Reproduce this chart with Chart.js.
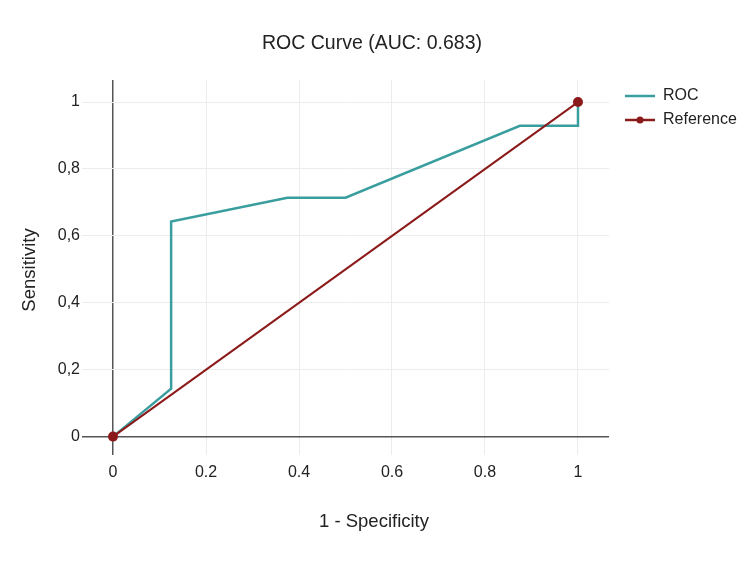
<!DOCTYPE html>
<html>
<head>
<meta charset="utf-8">
<script src="https://cdn.jsdelivr.net/npm/chart.js@4"></script>
<style>
  html, body { margin:0; padding:0; background:#fff; }
  #roc { display:block; }
</style>
</head>
<body>
<canvas id="roc" width="750" height="567"></canvas>
<script>
// ── Data ──────────────────────────────────────────────────────────────────────
const rocFpr = [0, 0.125, 0.125, 0.375, 0.5, 0.875, 1, 1];
const rocTpr = [0, 0.143, 0.643, 0.714, 0.714, 0.929, 0.929, 1];
const refFpr = [0, 1];
const refTpr = [0, 1];
const tickVals = [0, 0.2, 0.4, 0.6, 0.8, 1];

const TEAL = '#3a9e9f';
const RED  = '#8b1a1a';
const FONT = '"Liberation Sans", Arial, Helvetica, sans-serif';

const pts = (xs, ys) => xs.map((x,i)=>({ x, y: ys[i] }));
const fmtX = v => String(Math.round(v*10)/10);
const fmtY = v => fmtX(v).replace('.', ',');

// ── Titles + legend drawn on canvas ───────────────────────────────────────────
const textPlugin = {
  id:'texts',
  afterDraw(chart){
    const c = chart.ctx;
    c.save();
    c.fillStyle = '#222';
    c.textAlign = 'center';
    c.textBaseline = 'middle';
    c.font = `19.5px ${FONT}`;
    c.fillText('ROC Curve (AUC: 0.683)', 372, 44);
    c.font = `18.5px ${FONT}`;
    c.fillText('1 - Specificity', 374, 522);
    c.translate(30, 270);
    c.rotate(-Math.PI/2);
    c.fillText('Sensitivity', 0, 0);
    c.restore();

    // legend
    c.save();
    c.font = `16px ${FONT}`;
    c.textAlign = 'left';
    c.textBaseline = 'middle';
    c.lineWidth = 2.5;
    c.strokeStyle = TEAL;
    c.beginPath(); c.moveTo(625, 96); c.lineTo(655, 96); c.stroke();
    c.fillStyle = '#222';
    c.fillText('ROC', 663, 96);
    c.strokeStyle = RED;
    c.beginPath(); c.moveTo(625, 120); c.lineTo(655, 120); c.stroke();
    c.fillStyle = RED;
    c.beginPath(); c.arc(640, 120, 3.5, 0, Math.PI*2); c.fill();
    c.fillStyle = '#222';
    c.fillText('Reference', 663, 120);
    c.restore();
  }
};

const gridColor = ctx => (ctx.tick && ctx.tick.value === 0) ? '#555' : '#ececec';
const gridWidth = ctx => (ctx.tick && ctx.tick.value === 0) ? 1.5 : 1;

new Chart(document.getElementById('roc'), {
  type:'scatter',
  data:{ datasets:[
    { label:'ROC', data:pts(rocFpr, rocTpr), showLine:true, borderColor:TEAL,
      backgroundColor:TEAL, borderWidth:2.5, pointRadius:0, tension:0, order:2 },
    { label:'Reference', data:pts(refFpr, refTpr), showLine:true, borderColor:RED,
      backgroundColor:RED, borderWidth:2, pointRadius:4, tension:0, order:1 }
  ]},
  options:{
    responsive:false, animation:false, devicePixelRatio:1,
    layout:{ padding:{ top:80, right:141, left:0, bottom:0 } },
    plugins:{ legend:{ display:false }, title:{ display:false }, tooltip:{ enabled:false } },
    scales:{
      x:{
        type:'linear', min:-0.0667, max:1.0667,
        afterBuildTicks: s => { s.ticks = tickVals.map(v=>({ value:v })); },
        afterFit: s => { s.height = 112; },
        grid:{ color:gridColor, lineWidth:gridWidth, drawTicks:false },
        border:{ display:false },
        ticks:{ padding:8, color:'#222', font:{ family:FONT, size:16 }, callback:v=>fmtX(v), maxRotation:0 }
      },
      y:{
        type:'linear', min:-0.055, max:1.066,
        afterBuildTicks: s => { s.ticks = tickVals.map(v=>({ value:v })); },
        afterFit: s => { s.width = 82; },
        grid:{ color:gridColor, lineWidth:gridWidth, drawTicks:false },
        border:{ display:false },
        ticks:{ padding:2, color:'#222', font:{ family:FONT, size:16 }, callback:v=>fmtY(v) }
      }
    }
  },
  plugins:[textPlugin]
});
</script>
</body>
</html>
